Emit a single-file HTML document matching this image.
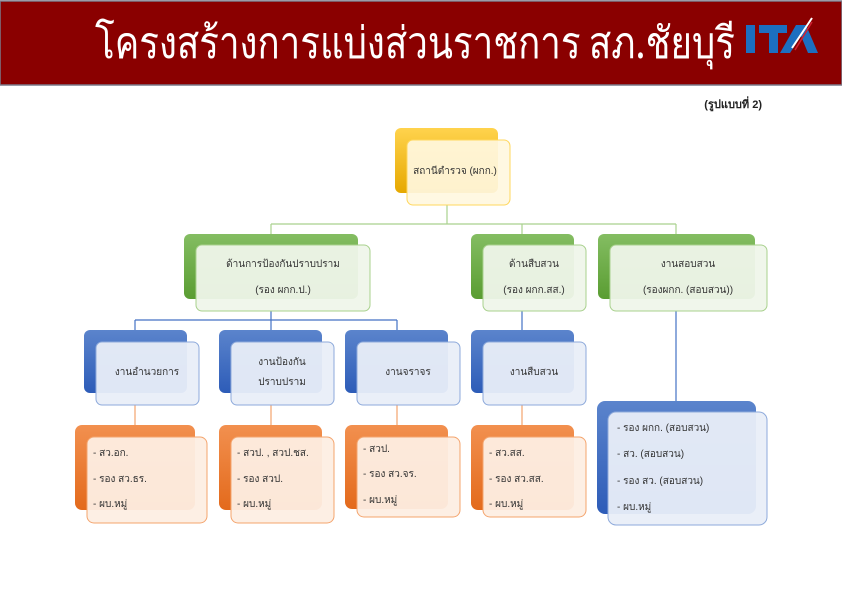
<!DOCTYPE html>
<html><head><meta charset="utf-8"><style>
html,body{margin:0;padding:0;background:#fff;}
body{width:842px;height:595px;overflow:hidden;position:relative;font-family:"Liberation Sans","Noto Sans CJK SC",sans-serif;}
</style></head><body>
<svg width="842" height="595" viewBox="0 0 842 595" xmlns="http://www.w3.org/2000/svg" style="position:absolute;left:0;top:0">
<defs>
<linearGradient id="gy" x1="0" y1="0" x2="0" y2="1"><stop offset="0" stop-color="#ffd34d"/><stop offset="1" stop-color="#e6a800"/></linearGradient>
<linearGradient id="gg" x1="0" y1="0" x2="0" y2="1"><stop offset="0" stop-color="#84bd62"/><stop offset="1" stop-color="#5a9d32"/></linearGradient>
<linearGradient id="gb" x1="0" y1="0" x2="0" y2="1"><stop offset="0" stop-color="#5b84cc"/><stop offset="1" stop-color="#2d5cb8"/></linearGradient>
<linearGradient id="go" x1="0" y1="0" x2="0" y2="1"><stop offset="0" stop-color="#f2904f"/><stop offset="1" stop-color="#e36a1c"/></linearGradient>
</defs>
<rect x="0" y="1" width="842" height="84" fill="#8a0000" stroke="#7a7a8a" stroke-width="1.5"/>
<text x="415" y="58" text-anchor="middle" fill="#fff" font-size="44" font-family="'Liberation Sans Narrow','Noto Sans CJK SC',sans-serif" textLength="640" lengthAdjust="spacingAndGlyphs">โครงสร้างการแบ่งส่วนราชการ สภ.ชัยบุรี</text>
<g fill="#1c6fc0">
<rect x="746" y="25" width="9" height="28"/><rect x="759" y="25" width="28" height="8"/><rect x="769" y="25" width="9" height="28"/>
<polygon points="780,53 796,25 806,25 818,53 808,53 801,36 790,53"/>
</g>
<path d="M792,48 L812,18" stroke="#fff" stroke-width="2"/><path d="M795,50 L812,22" stroke="#d02030" stroke-width="1.5"/>
<text x="762" y="108" text-anchor="end" font-size="11" font-weight="bold" fill="#222">(รูปแบบที่ 2)</text>

<g fill="none" stroke-width="1.2">
<path d="M447,205 V224 M271,224 H676 M271,224 V245 M522,224 V245 M676,224 V245" stroke="#a9d18e"/>
<path d="M271,311 V320 M135,320 H397 M135,320 V330 M271,320 V330 M397,320 V330 M522,311 V330 M676,311 V401" stroke="#4472c4"/>
<path d="M135,405 V425 M271,405 V425 M397,405 V425 M522,405 V425" stroke="#f4a46d"/>
</g>

<!-- top -->
<rect x="395" y="128" width="103" height="65" rx="6" fill="url(#gy)"/>
<rect x="407" y="140" width="103" height="65" rx="6" fill="#fff7e0" fill-opacity="0.92" stroke="#ffd75e"/>
<text x="455" y="174" text-anchor="middle" font-size="10" fill="#333">สถานีตำรวจ (ผกก.)</text>

<!-- level 2 -->
<rect x="184" y="234" width="174" height="65" rx="6" fill="url(#gg)"/>
<rect x="196" y="245" width="174" height="66" rx="6" fill="#eff5ea" fill-opacity="0.95" stroke="#a9d18e"/>
<text x="283" y="267" text-anchor="middle" font-size="10" fill="#333">ด้านการป้องกันปราบปราม</text>
<text x="283" y="293" text-anchor="middle" font-size="10" fill="#333">(รอง ผกก.ป.)</text>

<rect x="471" y="234" width="103" height="65" rx="6" fill="url(#gg)"/>
<rect x="483" y="245" width="103" height="66" rx="6" fill="#eff5ea" fill-opacity="0.95" stroke="#a9d18e"/>
<text x="534" y="267" text-anchor="middle" font-size="10" fill="#333">ด้านสืบสวน</text>
<text x="534" y="293" text-anchor="middle" font-size="10" fill="#333">(รอง ผกก.สส.)</text>

<rect x="598" y="234" width="157" height="65" rx="6" fill="url(#gg)"/>
<rect x="610" y="245" width="157" height="66" rx="6" fill="#eff5ea" fill-opacity="0.95" stroke="#a9d18e"/>
<text x="688" y="267" text-anchor="middle" font-size="10" fill="#333">งานสอบสวน</text>
<text x="688" y="293" text-anchor="middle" font-size="10" fill="#333">(รองผกก. (สอบสวน))</text>

<!-- level 3 -->
<g font-size="10" fill="#333" text-anchor="middle">
<rect x="84" y="330" width="103" height="63" rx="6" fill="url(#gb)"/>
<rect x="96" y="342" width="103" height="63" rx="6" fill="#e9eef8" fill-opacity="0.95" stroke="#8eaadb"/>
<text x="147" y="375">งานอำนวยการ</text>
<rect x="219" y="330" width="103" height="63" rx="6" fill="url(#gb)"/>
<rect x="231" y="342" width="103" height="63" rx="6" fill="#e9eef8" fill-opacity="0.95" stroke="#8eaadb"/>
<text x="282" y="365">งานป้องกัน</text><text x="282" y="385">ปราบปราม</text>
<rect x="345" y="330" width="103" height="63" rx="6" fill="url(#gb)"/>
<rect x="357" y="342" width="103" height="63" rx="6" fill="#e9eef8" fill-opacity="0.95" stroke="#8eaadb"/>
<text x="408" y="375">งานจราจร</text>
<rect x="471" y="330" width="103" height="63" rx="6" fill="url(#gb)"/>
<rect x="483" y="342" width="103" height="63" rx="6" fill="#e9eef8" fill-opacity="0.95" stroke="#8eaadb"/>
<text x="534" y="375">งานสืบสวน</text>
</g>

<!-- level 4 -->
<g font-size="10" fill="#333">
<rect x="75" y="425" width="120" height="85" rx="7" fill="url(#go)"/>
<rect x="87" y="437" width="120" height="86" rx="7" fill="#fdeee3" fill-opacity="0.95" stroke="#f4a46d"/>
<text x="93" y="456">- สว.อก.</text><text x="93" y="482">- รอง สว.ธร.</text><text x="93" y="507">- ผบ.หมู่</text>
<rect x="219" y="425" width="103" height="85" rx="7" fill="url(#go)"/>
<rect x="231" y="437" width="103" height="86" rx="7" fill="#fdeee3" fill-opacity="0.95" stroke="#f4a46d"/>
<text x="237" y="456">- สวป. , สวป.ชส.</text><text x="237" y="482">- รอง สวป.</text><text x="237" y="507">- ผบ.หมู่</text>
<rect x="345" y="425" width="103" height="84" rx="7" fill="url(#go)"/>
<rect x="357" y="437" width="103" height="80" rx="7" fill="#fdeee3" fill-opacity="0.95" stroke="#f4a46d"/>
<text x="363" y="452">- สวป.</text><text x="363" y="477">- รอง สว.จร.</text><text x="363" y="503">- ผบ.หมู่</text>
<rect x="471" y="425" width="103" height="85" rx="7" fill="url(#go)"/>
<rect x="483" y="437" width="103" height="80" rx="7" fill="#fdeee3" fill-opacity="0.95" stroke="#f4a46d"/>
<text x="489" y="456">- สว.สส.</text><text x="489" y="482">- รอง สว.สส.</text><text x="489" y="507">- ผบ.หมู่</text>
<rect x="597" y="401" width="159" height="113" rx="8" fill="url(#gb)"/>
<rect x="608" y="412" width="159" height="113" rx="8" fill="#e9eef8" fill-opacity="0.95" stroke="#8eaadb"/>
<text x="617" y="431">- รอง ผกก. (สอบสวน)</text><text x="617" y="457">- สว. (สอบสวน)</text><text x="617" y="484">- รอง สว. (สอบสวน)</text><text x="617" y="510">- ผบ.หมู่</text>
</g>
</svg>
</body></html>
